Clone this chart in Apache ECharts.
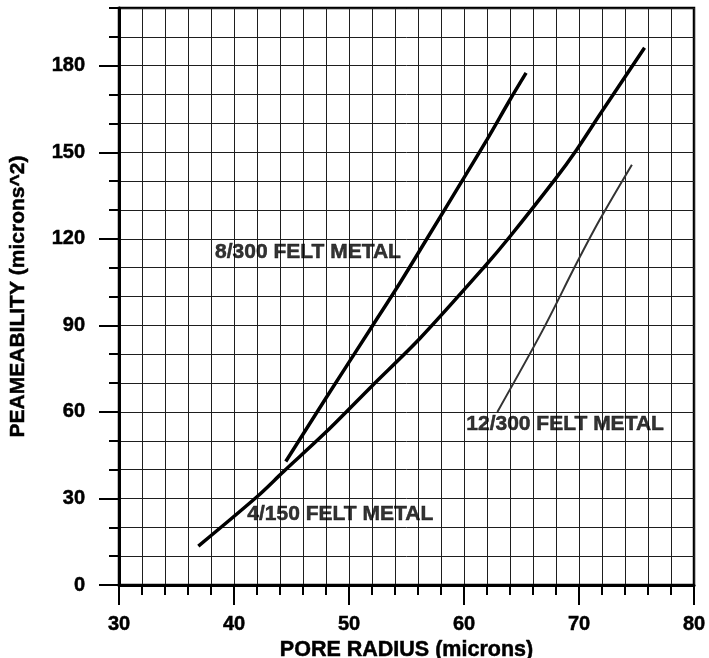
<!DOCTYPE html>
<html>
<head>
<meta charset="utf-8">
<script src="https://cdn.jsdelivr.net/npm/echarts@6/dist/echarts.min.js"></script>
<style>
html,body{margin:0;padding:0;background:#fff;}
#chart{width:709px;height:658px;}
</style>
</head>
<body>
<div id="chart"></div>
<script>
// ---- data ----
var felt8_x = [44.5, 48.0, 52.1, 54.4, 57.0, 59.9, 62.0, 64.0, 65.4];
var felt8_y = [42.8, 64.8, 90.2, 104.5, 121.5, 140.5, 154.4, 168.2, 177.5];

var felt4_x = [36.9, 42.0, 44.3, 48.0, 52.0, 56.2, 61.8, 64.0, 67.9, 69.8, 71.8, 75.7];
var felt4_y = [13.5, 30.6, 39.3, 53.0, 69.0, 85.6, 110.4, 120.8, 140.5, 150.9, 163.0, 186.2];

var felt12_x = [62.9, 66.8, 69.8, 71.8, 74.6];
var felt12_y = [60.0, 88.0, 111.6, 126.6, 145.7];

var xTickLabels = [30, 40, 50, 60, 70, 80];
var yTickLabels = [0, 30, 60, 90, 120, 150, 180];

var labelNames = ['8/300 FELT METAL', '4/150 FELT METAL', '12/300 FELT METAL'];
var labelX = [38.35, 41.16, 60.2];
var labelY = [115.5, 24.7, 55.8];

function pairs(xs, ys) { return xs.map(function (x, i) { return [x, ys[i]]; }); }

var FONT = "'Liberation Sans', Arial, Helvetica, sans-serif";
var gridLine = { color: '#1e1e1e', width: 1 };
var heavy = { textBorderColor: '#000', textBorderWidth: 0.5 };

var chart = echarts.init(document.getElementById('chart'), null, { renderer: 'canvas' });
chart.setOption({
  backgroundColor: '#ffffff',
  animation: false,
  grid: {
    left: 119, right: 15, top: 8, bottom: 73,
    containLabel: false, outerBoundsMode: 'none',
    show: true, borderColor: '#000', borderWidth: 2.5, backgroundColor: 'transparent'
  },
  xAxis: {
    type: 'value', min: 30, max: 80, interval: 10,
    name: 'PORE RADIUS (microns)', nameLocation: 'middle', nameGap: 48,
    nameTextStyle: Object.assign({ fontFamily: FONT, fontWeight: 'bold', fontSize: 21.5, color: '#000' }, heavy),
    axisLine: { show: true, onZero: false, lineStyle: { color: '#000', width: 3 } },
    axisTick: { show: true, length: 20, lineStyle: { color: '#000', width: 2 } },
    minorTick: { show: true, splitNumber: 5, length: 10, lineStyle: { color: '#000', width: 2 } },
    axisLabel: Object.assign({
      margin: 29, fontFamily: FONT, fontWeight: 'bold', fontSize: 20, color: '#000',
      formatter: function (v) { return xTickLabels.indexOf(v) >= 0 ? String(v) : ''; }
    }, heavy),
    splitLine: { show: true, lineStyle: gridLine },
    minorSplitLine: { show: true, lineStyle: gridLine }
  },
  yAxis: [
    {
      type: 'value', min: 0, max: 200, interval: 10, position: 'left',
      name: 'PEAMEABILITY (microns^2)', nameLocation: 'middle', nameGap: 90,
      nameTextStyle: Object.assign({ fontFamily: FONT, fontWeight: 'bold', fontSize: 21, color: '#000' }, heavy),
      axisLine: { show: true, onZero: false, lineStyle: { color: '#000', width: 3 } },
      axisTick: { show: true, length: 10, lineStyle: { color: '#000', width: 2 } },
      axisLabel: Object.assign({
        show: true, margin: 34, fontFamily: FONT, fontWeight: 'bold', fontSize: 20, color: '#000',
        formatter: function (v) { return yTickLabels.indexOf(v) >= 0 ? String(v) : ''; }
      }, heavy),
      splitLine: { show: true, lineStyle: gridLine }
    },
    {
      type: 'value', min: 0, max: 200, interval: 30, position: 'left', offset: 0,
      axisLine: { show: false },
      axisTick: { show: true, length: 20, customValues: yTickLabels, lineStyle: { color: '#000', width: 2 } },
      axisLabel: { show: false },
      splitLine: { show: false }
    }
  ],
  series: [
    {
      name: '8/300', type: 'line', yAxisIndex: 0, data: pairs(felt8_x, felt8_y),
      smooth: 0.3, showSymbol: false, silent: true,
      lineStyle: { color: '#000', width: 3.5 }
    },
    {
      name: '4/150', type: 'line', yAxisIndex: 0, data: pairs(felt4_x, felt4_y),
      smooth: 0.3, showSymbol: false, silent: true,
      lineStyle: { color: '#000', width: 3.5 }
    },
    {
      name: '12/300', type: 'line', yAxisIndex: 0, data: pairs(felt12_x, felt12_y),
      smooth: 0.3, showSymbol: false, silent: true,
      lineStyle: { color: '#333', width: 2 }
    },
    {
      name: 'labels', type: 'scatter', yAxisIndex: 0, symbolSize: 0, silent: true,
      data: labelNames.map(function (n, i) { return { name: n, value: [labelX[i], labelY[i]] }; }),
      label: Object.assign({
        show: true, position: 'right', distance: 0,
        formatter: function (p) { return p.name; },
        fontFamily: FONT, fontWeight: 'bold', fontSize: 21, color: '#000'
      }, heavy)
    }
  ]
});
</script>
</body>
</html>
